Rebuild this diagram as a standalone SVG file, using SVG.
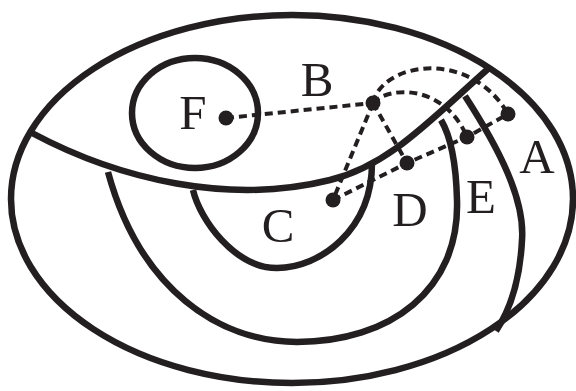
<svg xmlns="http://www.w3.org/2000/svg" width="576" height="391" viewBox="0 0 576 391">
<style>
.ln{fill:none;stroke:#231f20;stroke-width:6.5}
.ds{fill:none;stroke:#231f20;stroke-width:4;stroke-dasharray:8 5}
.dot{fill:#231f20}
.lb{font-family:"Liberation Serif","Times New Roman",serif;font-size:49px;fill:#231f20;text-anchor:middle}
</style>
<rect width="576" height="391" fill="#fff"/>
<g id="regions">
<ellipse id="outer" class="ln" cx="292" cy="199" rx="281" ry="184"/>
<ellipse id="F-region" class="ln" cx="195" cy="113" rx="63" ry="55"/>
<path id="B-boundary" class="ln" d="M32,133 C120,180 230,205 330,180 C390,165 430,120 489,68"/>
<path id="C-boundary" class="ln" d="M193,190 C200,220 235,268 277,268 C320,268 372,230 372,163"/>
<path id="D-boundary" class="ln" d="M108,172 C140,290 220,342 297,342 C390,342 460,290 457,200 C456,160 450,135 441,120"/>
<path id="A-boundary" class="ln" d="M465,96 C500,150 525,200 522,240 C520,280 510,310 496,331"/>
</g>
<g id="connectors">
<path class="ds" d="M226,118 L373,103"/>
<path class="ds" d="M373,103 L333,200"/>
<path class="ds" d="M373,103 L407,163"/>
<path class="ds" d="M333,200 L407,163 L467,137 L508,114"/>
<path class="ds" d="M373,103 C382,62 470,48 508,114"/>
<path class="ds" d="M373,103 C390,85 445,85 467,137"/>
</g>
<g id="nodeF"><circle class="dot" cx="226" cy="118" r="7.5"/><text class="lb" x="193" y="129">F</text></g>
<g id="nodeB"><circle class="dot" cx="373" cy="103" r="7.5"/><text class="lb" x="317" y="96">B</text></g>
<g id="nodeC"><circle class="dot" cx="333" cy="200" r="7.5"/><text class="lb" x="278" y="242">C</text></g>
<g id="nodeD"><circle class="dot" cx="407" cy="163" r="7.5"/><text class="lb" x="410" y="226">D</text></g>
<g id="nodeE"><circle class="dot" cx="467" cy="137" r="7.5"/><text class="lb" x="481" y="213">E</text></g>
<g id="nodeA"><circle class="dot" cx="508" cy="114" r="7.5"/><text class="lb" x="537" y="173">A</text></g>
</svg>
